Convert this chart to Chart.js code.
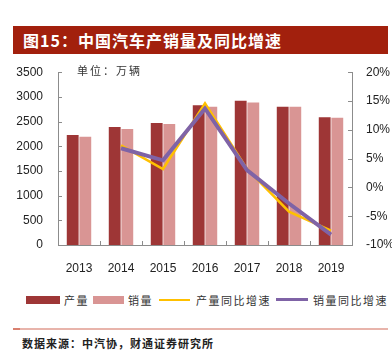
<!DOCTYPE html>
<html lang="zh">
<head>
<meta charset="UTF-8">
<title>中国汽车产销量及同比增速</title>
<script src="https://cdn.jsdelivr.net/npm/chart.js"></script>
<style>
  body { margin: 0; width: 392px; height: 359px; background: #fff; position: relative; overflow: hidden;
         font-family: "Noto Sans CJK SC", sans-serif; }
  .title { position: absolute; left: 13px; top: 26px; width: 375px; height: 28px; background: #a2200d;
           color: #fff; font-weight: bold; font-size: 16px; letter-spacing: 1px; line-height: 28px;
           box-sizing: border-box; padding-left: 10px; }
  .unit { position: absolute; left: 77px; top: 62px; font-size: 11px; color: #333; letter-spacing: 2px; }
  #wrap { position: absolute; left: 0; top: 58px; width: 392px; height: 215px; }
  .legend { position: absolute; top: 292px; left: 0; width: 392px; height: 16px; font-size: 11px; color: #333; }
  .legend span { position: absolute; top: 0; line-height: 16px; letter-spacing: 1.5px; }
  .legend i { position: absolute; display: block; }
  .rule { position: absolute; left: 13px; top: 328px; width: 375px; height: 1.5px; background: #e8b4ab; }
  .rule::before { content: ""; position: absolute; left: 0; top: 0; width: 7px; height: 2px; background: #d9806f; }
  .source { position: absolute; left: 22px; top: 335px; font-size: 11px; font-weight: bold; color: #222; letter-spacing: 1px; }
</style>
</head>
<body>

<div class="title">图15：中国汽车产销量及同比增速</div>
<div id="wrap"><canvas id="c" width="392" height="215"></canvas></div>
<div class="unit">单位：万辆</div>

<div class="legend">
  <i style="left:26px;top:4px;width:34px;height:8px;background:#9e3636"></i><span style="left:64px">产量</span>
  <i style="left:93px;top:4px;width:31px;height:8px;background:#d99594"></i><span style="left:128px">销量</span>
  <i style="left:159px;top:7px;width:31px;height:2px;background:#ffc000"></i><span style="left:196px">产量同比增速</span>
  <i style="left:276px;top:6px;width:32px;height:3px;background:#7f63a6"></i><span style="left:313px">销量同比增速</span>
</div>

<div class="rule"></div>
<div class="source">数据来源：中汽协，财通证券研究所</div>

<script>
const years = ['2013', '2014', '2015', '2016', '2017', '2018', '2019'];
const production = [2230, 2390, 2470, 2830, 2920, 2800, 2590];
const sales = [2195, 2350, 2450, 2800, 2885, 2800, 2575];
const productionGrowth = [null, 7.3, 3.2, 14.6, 3.2, -4.2, -7.5];
const salesGrowth = [null, 6.8, 4.7, 13.7, 3.0, -2.8, -8.2];

const tickFont = { family: "'Liberation Sans', Arial", size: 12 };
const axisColor = '#8c8c8c';

// small tick marks pointing into the plot
const innerTicks = {
  id: 'innerTicks',
  afterDraw(chart) {
    const ctx = chart.ctx;
    const { x, y, y2 } = chart.scales;
    ctx.save();
    ctx.strokeStyle = axisColor;
    ctx.lineWidth = 1;
    ctx.beginPath();
    y.ticks.forEach(t => {
      const py = Math.round(y.getPixelForValue(t.value)) + 0.5;
      ctx.moveTo(x.left, py); ctx.lineTo(x.left + 4, py);
    });
    y2.ticks.forEach(t => {
      const py = Math.round(y2.getPixelForValue(t.value)) + 0.5;
      ctx.moveTo(x.right, py); ctx.lineTo(x.right - 4, py);
    });
    for (let i = 0; i < years.length - 1; i++) {
      const px = Math.round((x.getPixelForValue(i) + x.getPixelForValue(i + 1)) / 2) + 0.5;
      ctx.moveTo(px, y.bottom); ctx.lineTo(px, y.bottom - 4);
    }
    ctx.stroke();
    ctx.restore();
  }
};

new Chart(document.getElementById('c'), {
  type: 'bar',
  data: {
    labels: years,
    datasets: [
      { type: 'line', label: '销量同比增速', data: salesGrowth, yAxisID: 'y2', order: 0,
        borderColor: '#7f63a6', borderWidth: 4, pointRadius: 0, tension: 0 },
      { type: 'line', label: '产量同比增速', data: productionGrowth, yAxisID: 'y2', order: 1,
        borderColor: '#ffc000', borderWidth: 2.5, pointRadius: 0, tension: 0 },
      { label: '产量', data: production, yAxisID: 'y', order: 2, backgroundColor: '#9e3636',
        categoryPercentage: 0.6, barPercentage: 0.94 },
      { label: '销量', data: sales, yAxisID: 'y', order: 3, backgroundColor: '#d99594',
        categoryPercentage: 0.6, barPercentage: 0.94 }
    ]
  },
  options: {
    responsive: false,
    animation: false,
    layout: { padding: { top: 12, bottom: 0, left: 0, right: 0 } },
    plugins: { legend: { display: false }, tooltip: { enabled: false } },
    scales: {
      x: {
        grid: { display: false },
        border: { color: axisColor },
        ticks: { color: '#222', font: tickFont, padding: 8 },
        afterFit: s => { s.height = 28; }
      },
      y: {
        position: 'left', min: 0, max: 3500,
        grid: { display: false },
        border: { color: axisColor },
        ticks: { stepSize: 500, color: '#222', font: tickFont, padding: 7, callback: v => String(v) },
        afterFit: s => { s.width = 58; }
      },
      y2: {
        position: 'right', min: -10, max: 20,
        grid: { display: false },
        border: { color: axisColor },
        ticks: { stepSize: 5, color: '#222', font: tickFont, padding: 6, callback: v => v + '%' },
        afterFit: s => { s.width = 40; }
      }
    }
  },
  plugins: [innerTicks]
});
</script>
</body>
</html>
